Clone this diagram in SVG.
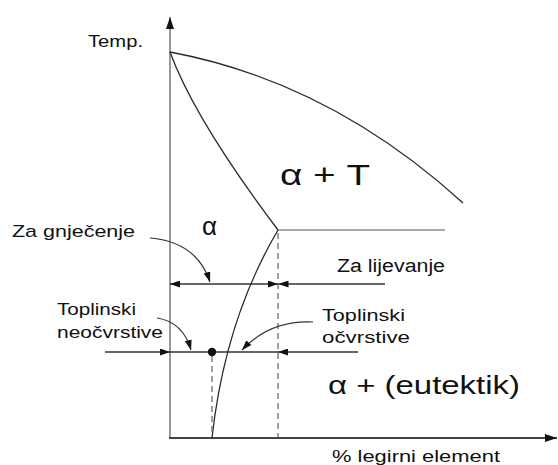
<svg xmlns="http://www.w3.org/2000/svg" width="558" height="465" viewBox="0 0 558 465">
<style>
  .t { font-family: "Liberation Sans", Arial, sans-serif; fill: #111; }
  .curve { fill: none; stroke: #2a2a2a; stroke-width: 1.3; }
  .gray { fill: none; stroke: #8c8c8c; stroke-width: 1.6; }
  .ann { fill: none; stroke: #333; stroke-width: 1.4; }
  .dash { fill: none; stroke: #777; stroke-width: 1.4; stroke-dasharray: 6 4; }
  .ptr { fill: none; stroke: #333; stroke-width: 1.2; marker-end: url(#ah); }
</style>
<defs>
  <marker id="ah" viewBox="0 0 10 7" refX="10" refY="3.5" markerWidth="10" markerHeight="7" markerUnits="userSpaceOnUse" orient="auto-start-reverse">
    <path d="M0,0 L10,3.5 L0,7 z" fill="#111"/>
  </marker>
  <marker id="axh" viewBox="0 0 12 8" refX="12" refY="4" markerWidth="12" markerHeight="8" markerUnits="userSpaceOnUse" orient="auto">
    <path d="M0,0 L12,4 L0,8 z" fill="#111"/>
  </marker>
</defs>
<rect width="558" height="465" fill="#fff"/>

<g id="axes">
  <line x1="170" y1="438" x2="170" y2="17" stroke="#999" stroke-width="2" marker-end="url(#axh)"/>
  <line x1="169" y1="438" x2="557" y2="438" stroke="#444" stroke-width="1.8" marker-end="url(#axh)"/>
</g>

<g id="phase-lines">
  <path id="liquidus" class="curve" d="M170,52 Q330,82 463,203"/>
  <path id="solidus" class="curve" d="M170,52 Q195,120 278,230"/>
  <line id="eutectic" class="gray" x1="278" y1="230" x2="445" y2="230"/>
  <path id="solvus" class="curve" d="M278,230 Q225,320 212,438"/>
  <line class="dash" x1="278" y1="233" x2="278" y2="437"/>
  <line class="dash" x1="212" y1="356" x2="212" y2="437"/>
</g>

<g id="connectors">
  <line class="ann" x1="170" y1="284" x2="278" y2="284" marker-start="url(#ah)" marker-end="url(#ah)"/>
  <line class="ann" x1="278.5" y1="284" x2="385" y2="284" marker-start="url(#ah)"/>
  <line class="ann" x1="105" y1="352" x2="170" y2="352" marker-end="url(#ah)"/>
  <line class="ann" x1="170" y1="352" x2="278" y2="352"/>
  <line class="ann" x1="278" y1="352" x2="358" y2="352" marker-start="url(#ah)"/>
  <circle cx="212" cy="352" r="4.2" fill="#111"/>
  <path class="ptr" d="M150,238 Q197,242 210,282"/>
  <path class="ptr" d="M157,318 Q183,322 191,350"/>
  <path class="ptr" d="M313,322 Q270,320 242,350"/>
</g>

<g id="labels">
  <text class="t" x="88" y="47" font-size="17" textLength="55" lengthAdjust="spacingAndGlyphs">Temp.</text>
  <text class="t" x="280" y="185" font-size="30" textLength="90" lengthAdjust="spacingAndGlyphs">α + T</text>
  <text class="t" x="202" y="235" font-size="26">α</text>
  <text class="t" x="12" y="237" font-size="17" textLength="123" lengthAdjust="spacingAndGlyphs">Za gnječenje</text>
  <text class="t" x="337" y="272" font-size="18" textLength="108" lengthAdjust="spacingAndGlyphs">Za lijevanje</text>
  <text class="t" x="57" y="315" font-size="17" textLength="79" lengthAdjust="spacingAndGlyphs">Toplinski</text>
  <text class="t" x="57" y="338" font-size="17" textLength="106" lengthAdjust="spacingAndGlyphs">neočvrstive</text>
  <text class="t" x="322" y="321" font-size="17" textLength="83" lengthAdjust="spacingAndGlyphs">Toplinski</text>
  <text class="t" x="322" y="343" font-size="17" textLength="88" lengthAdjust="spacingAndGlyphs">očvrstive</text>
  <text class="t" x="328" y="394" font-size="25" textLength="192" lengthAdjust="spacingAndGlyphs">α + (eutektik)</text>
  <text class="t" x="332" y="462" font-size="17" textLength="168" lengthAdjust="spacingAndGlyphs">% legirni element</text>
</g>
</svg>
